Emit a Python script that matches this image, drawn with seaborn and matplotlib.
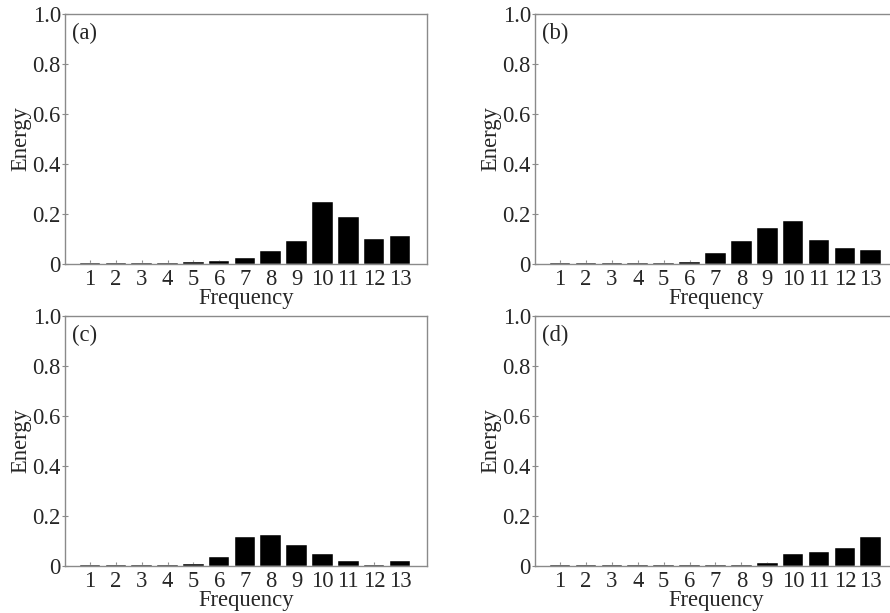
import matplotlib
matplotlib.use("Agg")
import matplotlib.pyplot as plt
import seaborn as sns
import pandas as pd

sns.set_theme(style="white")
plt.rcParams['font.family'] = ['Liberation Serif', 'DejaVu Serif']
plt.rcParams['mathtext.fontset'] = 'stix'

frequencies = [str(i) for i in range(1, 14)]
energy_a = [0.006, 0.006, 0.006, 0.006, 0.009, 0.013, 0.023, 0.053, 0.092, 0.249, 0.188, 0.101, 0.113]
energy_b = [0.006, 0.006, 0.006, 0.006, 0.006, 0.008, 0.043, 0.092, 0.144, 0.172, 0.096, 0.065, 0.057]
energy_c = [0.006, 0.006, 0.006, 0.006, 0.009, 0.036, 0.117, 0.123, 0.084, 0.048, 0.021, 0.006, 0.019]
energy_d = [0.006, 0.006, 0.006, 0.006, 0.006, 0.006, 0.006, 0.006, 0.012, 0.048, 0.057, 0.073, 0.117]
panel_labels = ["(a)", "(b)", "(c)", "(d)"]
y_ticks = [0, 0.2, 0.4, 0.6, 0.8, 1.0]
y_tick_labels = ["0", "0.2", "0.4", "0.6", "0.8", "1.0"]
x_label = "Frequency"
y_label = "Energy"

W, H = 890, 613
fig = plt.figure(figsize=(W / 100, H / 100), dpi=100)

positions = [
    (65, 14, 427, 264),
    (535, 14, 898, 264),
    (65, 316, 427, 566),
    (535, 316, 898, 566),
]
series = [energy_a, energy_b, energy_c, energy_d]
spine_col = "#8a8a8a"
fs = 16.3

for (l, t, r, b), vals, lab in zip(positions, series, panel_labels):
    ax = fig.add_axes([l / W, 1 - b / H, (r - l) / W, (b - t) / H])
    df = pd.DataFrame({"Frequency": frequencies, "Energy": vals})
    sns.barplot(data=df, x="Frequency", y="Energy", color="black", saturation=1,
                edgecolor="white", linewidth=0.3, width=0.8, ax=ax)
    ax.set_xlim(-0.97, 13.05)
    ax.set_ylim(0, 1.0)
    ax.set_yticks(y_ticks)
    ax.set_yticklabels(y_tick_labels)
    for s in ax.spines.values():
        s.set_visible(True)
        s.set_color(spine_col)
        s.set_linewidth(1.0)
    ax.tick_params(axis="y", direction="inout", length=4, width=0.8, color=spine_col,
                   labelsize=fs, pad=1, left=True)
    ax.tick_params(axis="x", direction="in", length=3, width=0.8, color=spine_col,
                   labelsize=fs, pad=3.5, bottom=True)
    ax.set_xlabel(x_label, fontsize=fs, labelpad=-1.5)
    ax.set_ylabel(y_label, fontsize=fs, labelpad=1)
    ax.text(7 / (r - l), 1 - 9 / (b - t), lab, transform=ax.transAxes,
            ha="left", va="top", fontsize=fs)

fig.savefig("out.png", dpi=100)
